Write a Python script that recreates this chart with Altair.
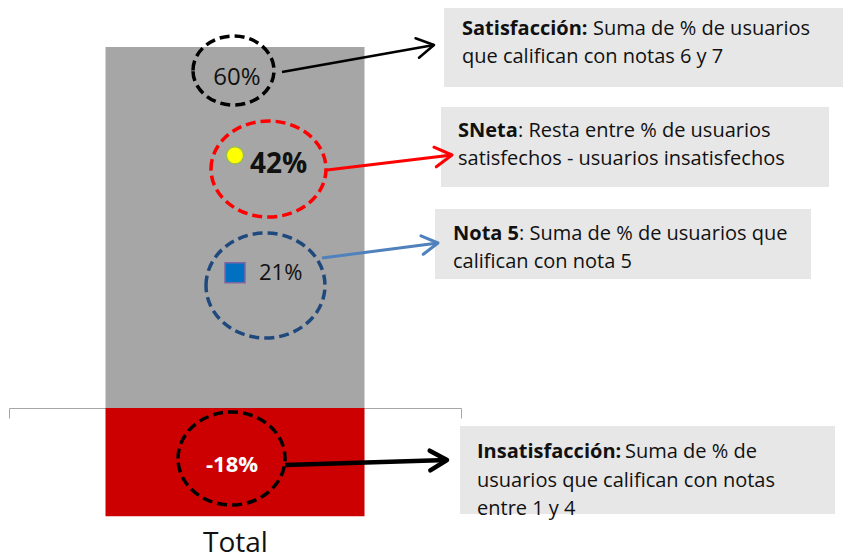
import math
import altair as alt
import pandas as pd

# ---------------- data ----------------
categoria = ["Total"]
series = ["Satisfacción", "Insatisfacción"]
valores = [60, -18]
colores_series = ["#a6a6a6", "#cc0000"]
sneta = 42                 # yellow dot
nota5 = 21                 # label of blue square
nota5_marcador = 22.5      # where the blue square sits
etiqueta_sat = "60%"
etiqueta_ins = "-18%"
etiqueta_sneta = f"{sneta}%"
etiqueta_nota5 = f"{nota5}%"

# annotation texts: (bold part, regular part of first line, further lines)
cajas_bold = ["Satisfacción:", "SNeta", "Nota 5", "Insatisfacción:"]
cajas_reg1 = ["Suma de % de usuarios", ": Resta entre % de usuarios",
              ": Suma de % de usuarios que", "Suma de % de"]
cajas_resto = [["que califican con notas 6 y 7"],
               ["satisfechos - usuarios insatisfechos"],
               ["califican con nota 5"],
               ["usuarios que califican con notas", "entre 1 y 4"]]

# ---------------- layout ----------------
W, H = 835, 550
PAGE = 8
ZERO_PAGE_Y = 408
PX_PER_PCT = 361 / 60
ZERO_Y = ZERO_PAGE_Y - PAGE
Y_DOMAIN = [(ZERO_Y - H) / PX_PER_PCT, ZERO_Y / PX_PER_PCT]
FONT = "Open Sans"


def X(px):
    return min(px, PAGE + W) - PAGE


def Y(py):
    return (ZERO_PAGE_Y - py) / PX_PER_PCT


y_scale = alt.Scale(domain=Y_DOMAIN, nice=False, zero=False)
x_lay = alt.Scale(domain=[0, W], nice=False, zero=False)
x_band = alt.Scale(domain=categoria, range=[X(9), X(461)], paddingInner=0, paddingOuter=0)


def lay_enc(**kw):
    enc = dict(
        x=alt.X("x:Q", scale=x_lay, axis=None),
        y=alt.Y("y:Q", scale=y_scale, axis=None),
    )
    enc.update(kw)
    return enc


# bars
df_bar = pd.DataFrame({"cat": categoria * 2, "serie": series, "valor": valores})
bars = alt.Chart(df_bar).mark_bar(width=alt.RelativeBandSize(259 / 452)).encode(
    x=alt.X("cat:N", scale=x_band, sort=None, axis=alt.Axis(
        title=None, orient="bottom", offset=-(H - ZERO_Y), domainColor="#a6a6a6",
        domainWidth=1, tickColor="#a6a6a6", tickWidth=1, tickSize=10, tickBand="extent",
        labelAngle=0, labelFont=FONT, labelFontSize=28, labelColor="#111111",
        labelPadding=133, labelBaseline="alphabetic", grid=False)),
    y=alt.Y("valor:Q", scale=y_scale, axis=None, stack=None),
    color=alt.Color("serie:N", scale=alt.Scale(domain=series, range=colores_series), legend=None),
)

# markers on the category
df_dot = pd.DataFrame({"cat": categoria, "valor": [sneta]})
dot = alt.Chart(df_dot).mark_point(shape="circle", filled=True, fill="#ffff00", stroke="#9bbb59",
                                   strokeWidth=1.5, size=300, opacity=1).encode(
    x=alt.X("cat:N", scale=x_band, axis=None),
    y=alt.Y("valor:Q", scale=y_scale, axis=None))
df_sq = pd.DataFrame({"cat": categoria, "valor": [nota5_marcador]})
square = alt.Chart(df_sq).mark_point(shape="square", filled=True, fill="#0070c0", stroke="#8064a2",
                                     strokeWidth=1.5, size=400, opacity=1).encode(
    x=alt.X("cat:N", scale=x_band, axis=None),
    y=alt.Y("valor:Q", scale=y_scale, axis=None))

# text boxes
box_pos = [(444, 851, 5, 87), (441, 829, 107, 187), (435, 811, 209, 279), (460, 835, 426, 514)]
df_box = pd.DataFrame({
    "x": [X(b[0]) for b in box_pos], "x2": [X(b[1]) for b in box_pos],
    "y": [Y(b[2]) for b in box_pos], "y2": [Y(b[3]) for b in box_pos]})
boxes = alt.Chart(df_box).mark_rect(fill="#e7e7e7").encode(
    **lay_enc(x2="x2:Q", y2="y2:Q"))

# text in boxes
bold_pos = [(462, 35), (458, 137), (453, 240), (477, 458)]
reg_pos = [(593, 35), (518, 137), (519, 240), (625, 458)]
rest_pos = [[(462, 63)], [(458, 165)], [(453, 268)], [(477, 486.5), (477, 515)]]
rows_b, rows_r = [], []
for i in range(4):
    rows_b.append({"x": X(bold_pos[i][0]), "y": Y(bold_pos[i][1]), "t": cajas_bold[i]})
    rows_r.append({"x": X(reg_pos[i][0]), "y": Y(reg_pos[i][1]), "t": cajas_reg1[i]})
    for (px, py), line in zip(rest_pos[i], cajas_resto[i]):
        rows_r.append({"x": X(px), "y": Y(py), "t": line})
txt_b = alt.Chart(pd.DataFrame(rows_b)).mark_text(
    align="left", baseline="alphabetic", font=FONT, fontSize=20, fontWeight="bold",
    color="#111111").encode(**lay_enc(text="t:N"))
txt_r = alt.Chart(pd.DataFrame(rows_r)).mark_text(
    align="left", baseline="alphabetic", font=FONT, fontSize=20, fontWeight="normal",
    color="#111111").encode(**lay_enc(text="t:N"))

# dashed ellipses
K = 0.5523


def ellipse_path(r):
    k = K
    return (f"M -1 0 C -1 {-k*r:.4f} {-k:.4f} {-r:.4f} 0 {-r:.4f} "
            f"C {k:.4f} {-r:.4f} 1 {-k*r:.4f} 1 0 "
            f"C 1 {k*r:.4f} {k:.4f} {r:.4f} 0 {r:.4f} "
            f"C {-k:.4f} {r:.4f} -1 {k*r:.4f} -1 0 Z")


ellipses = [
    (233.5, 70.5, 40.5, 34.5, "#000000"),
    (268.5, 169, 57.5, 48, "#ff0000"),
    (265.5, 285.5, 59.5, 52.5, "#1f497d"),
    (231.5, 458.5, 53.5, 46.5, "#000000"),
]
ell_layers = []
for cx, cy, rx, ry, col in ellipses:
    ell_layers.append(
        alt.Chart(pd.DataFrame({"x": [X(cx)], "y": [Y(cy)]})).mark_point(
            shape=ellipse_path(ry / rx), size=(2 * rx) ** 2, filled=False, stroke=col,
            strokeWidth=3.5, strokeDash=[10, 5], opacity=1).encode(**lay_enc()))

# value labels
labels = [
    (237, 85, etiqueta_sat, "center", 24, "normal", "#111111"),
    (250, 173, etiqueta_sneta, "left", 28, "bold", "#111111"),
    (259, 280, etiqueta_nota5, "left", 22, "normal", "#111111"),
    (232, 472, etiqueta_ins, "center", 22, "bold", "#ffffff"),
]
lab_layers = []
for px, py, t, al, fs, fw, col in labels:
    lab_layers.append(
        alt.Chart(pd.DataFrame({"x": [X(px)], "y": [Y(py)], "t": [t]})).mark_text(
            align=al, baseline="alphabetic", font=FONT, fontSize=fs, fontWeight=fw,
            color=col).encode(**lay_enc(text="t:N")))

# arrows
arrows = [
    (282, 72, 434, 45, "#000000", 2.5, 17),
    (327, 170, 452, 155, "#ff0000", 3, 17),
    (322, 258, 438, 243, "#4f81bd", 3, 16),
    (285, 465, 447, 460, "#000000", 4.5, 17),
]
arrow_layers = []
HEAD = "M -1 -0.58 L 0 0 L -1 0.58"
for x0, y0, x1, y1, col, sw, hs in arrows:
    df_a = pd.DataFrame({"x": [X(x0)], "y": [Y(y0)], "x2": [X(x1)], "y2": [Y(y1)]})
    arrow_layers.append(alt.Chart(df_a).mark_rule(color=col, strokeWidth=sw).encode(
        **lay_enc(x2="x2:Q", y2="y2:Q")))
    ang = math.degrees(math.atan2(y1 - y0, x1 - x0)) % 360
    arrow_layers.append(
        alt.Chart(pd.DataFrame({"x": [X(x1)], "y": [Y(y1)]})).mark_point(
            shape=HEAD, size=(2 * hs) ** 2, angle=ang, filled=False, stroke=col,
            strokeWidth=sw, strokeCap="round", strokeJoin="round", opacity=1).encode(**lay_enc()))

chart = alt.layer(
    boxes, txt_b, txt_r, bars, *ell_layers, dot, square, *lab_layers, *arrow_layers
).resolve_scale(x="independent").properties(
    width=W, height=H, autosize=alt.AutoSizeParams(type="none"), padding=0,
    background="white",
).configure_view(strokeWidth=0, stroke="transparent")

chart.save("out.html", embed_options={"renderer": "svg", "actions": False})
